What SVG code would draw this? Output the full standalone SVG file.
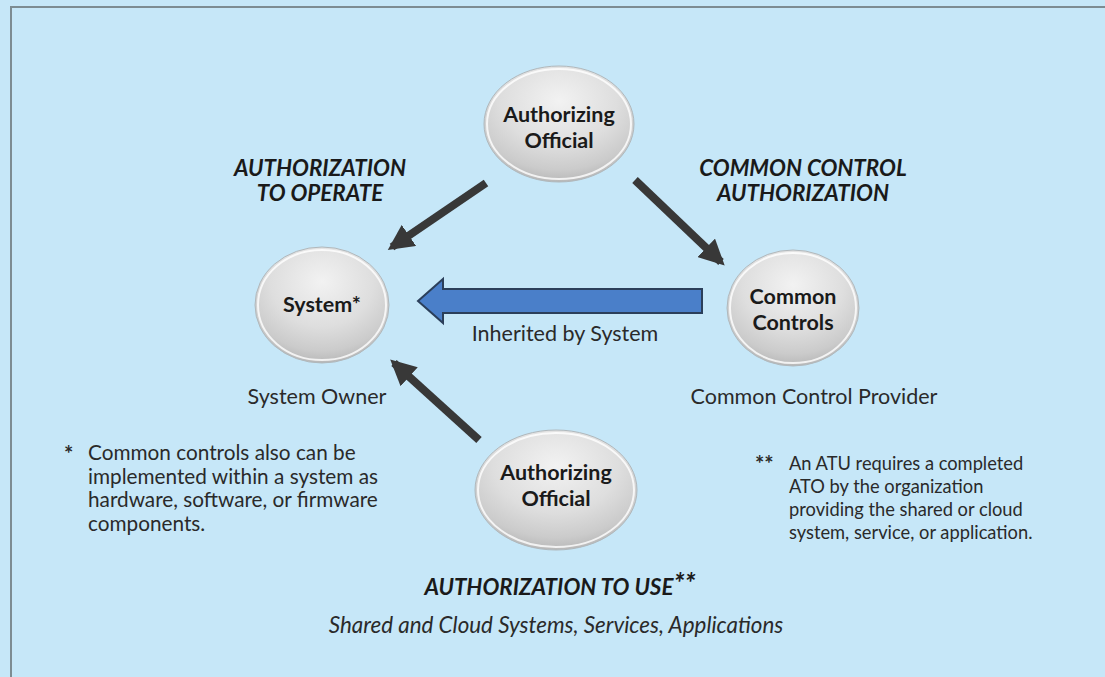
<svg xmlns="http://www.w3.org/2000/svg" width="1105" height="677" viewBox="0 0 1105 677">
<defs>
<radialGradient id="ball" cx="0.5" cy="0.3" r="0.7">
<stop offset="0" stop-color="#f2f2f2"/>
<stop offset="0.55" stop-color="#dedede"/>
<stop offset="0.85" stop-color="#cbcbcb"/>
<stop offset="1" stop-color="#b8b8b8"/>
</radialGradient>
<marker id="ah" viewBox="0 0 10 10" refX="8" refY="5" markerWidth="3.2" markerHeight="3.2" orient="auto" markerUnits="strokeWidth">
<path d="M0,0 L10,5 L0,10 z" fill="#383838"/>
</marker>
<style>
.bg{fill:#c6e7f8}
.frame{fill:none;stroke:#7d8c92;stroke-width:2}
.node{fill:url(#ball);stroke:#b0b8bc;stroke-width:1}
.rim{fill:none;stroke:#ffffff;stroke-width:2;stroke-opacity:0.8}
.nt{font-family:Lato,"Open Sans",sans-serif;font-weight:bold;font-size:21.5px;fill:#1a1a1a;text-anchor:middle}
.lab{font-family:Lato,"Open Sans",sans-serif;font-size:21.5px;fill:#2a2a2a;text-anchor:middle}
.sub{font-family:Lato,"Open Sans",sans-serif;font-style:italic;font-size:22.4px;fill:#2a2a2a;text-anchor:middle}
.head{font-family:Lato,"Open Sans",sans-serif;font-weight:bold;font-style:italic;font-size:22.4px;fill:#1a1a1a;text-anchor:middle}
.fnl{font-family:Lato,"Open Sans",sans-serif;font-size:20.75px;fill:#2a2a2a}
.fnr{font-family:Lato,"Open Sans",sans-serif;font-size:18.3px;fill:#2a2a2a}
.star{font-family:Lato,"Open Sans",sans-serif;font-size:22px;font-weight:bold;fill:#2a2a2a}
.conn{stroke:#383838;stroke-width:8;fill:none;marker-end:url(#ah)}
.block{fill:#4a7fc9;stroke:#2b3f5a;stroke-width:2}
</style>
</defs>
<rect class="bg" x="0" y="0" width="1105" height="677"/>
<path class="frame" d="M11,677 V7 H1105"/>

<g id="connectors">
<line class="conn" x1="486" y1="183" x2="392" y2="247"/>
<line class="conn" x1="635" y1="180" x2="721" y2="262"/>
<line class="conn" x1="479" y1="440" x2="394" y2="363"/>
<path class="block" d="M702,289 L443,289 L443,279 L418,301 L443,323 L443,313 L702,313 Z"/>
</g>

<g id="ao-top">
<ellipse class="node" cx="559" cy="124" rx="75" ry="58"/>
<ellipse class="rim" cx="559" cy="124" rx="72" ry="55"/>
<text class="nt" x="559" y="122">Authorizing</text>
<text class="nt" x="559" y="148">Official</text>
</g>

<g id="system">
<ellipse class="node" cx="322" cy="305" rx="67" ry="58"/>
<ellipse class="rim" cx="322" cy="305" rx="64" ry="55"/>
<text class="nt" x="322" y="312">System*</text>
<text class="lab" x="317" y="404">System Owner</text>
</g>

<g id="common-controls">
<ellipse class="node" cx="793" cy="308" rx="66" ry="58"/>
<ellipse class="rim" cx="793" cy="308" rx="63" ry="55"/>
<text class="nt" x="793" y="304">Common</text>
<text class="nt" x="793" y="330">Controls</text>
<text class="lab" x="814" y="404">Common Control Provider</text>
</g>

<g id="ao-bottom">
<ellipse class="node" cx="556" cy="490" rx="81" ry="60"/>
<ellipse class="rim" cx="556" cy="490" rx="78" ry="57"/>
<text class="nt" x="556" y="480">Authorizing</text>
<text class="nt" x="556" y="506">Official</text>
</g>

<g id="labels">
<text class="head" x="320" y="176">AUTHORIZATION</text>
<text class="head" x="320" y="201">TO OPERATE</text>
<text class="head" x="803" y="176">COMMON CONTROL</text>
<text class="head" x="803" y="201">AUTHORIZATION</text>
<text class="lab" x="565" y="341">Inherited by System</text>
<text class="head" x="560" y="595">AUTHORIZATION TO USE<tspan font-size="28" dy="-2">**</tspan></text>
<text class="sub" x="556" y="633">Shared and Cloud Systems, Services, Applications</text>
</g>

<g id="footnotes">
<text class="star" x="64" y="462">*</text>
<text class="fnl" x="88" y="460">Common controls also can be</text>
<text class="fnl" x="88" y="484">implemented within a system as</text>
<text class="fnl" x="88" y="507">hardware, software, or firmware</text>
<text class="fnl" x="88" y="531">components.</text>
<text class="star" x="755" y="472">**</text>
<text class="fnr" x="789" y="470">An ATU requires a completed</text>
<text class="fnr" x="789" y="493">ATO by the organization</text>
<text class="fnr" x="789" y="516">providing the shared or cloud</text>
<text class="fnr" x="789" y="539">system, service, or application.</text>
</g>
</svg>
